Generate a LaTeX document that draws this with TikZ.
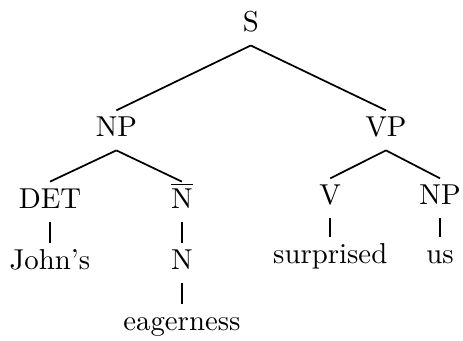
\documentclass[tikz,border=0pt]{standalone}
\begin{document}
\begin{tikzpicture}[cat/.style={inner xsep=1pt, inner ysep=2pt, text height=7pt, text depth=2.5pt, anchor=base},
  branch/.style={line width=0.6pt}]
  \useasboundingbox (0,0) rectangle (5.65,4.16);

  % Root and phrase level
  \node[cat] (s)   at (3.06, 3.77) {S};
  \node[cat] (np)  at (1.42, 2.49) {NP};
  \node[cat] (vp)  at (4.71, 2.49) {VP};

  % Categories below NP and VP
  \node[cat] (det)  at (0.61, 1.62) {DET};
  \node[cat] (nbar) at (2.22, 1.62) {$\overline{\mbox{N}}$};
  \node[cat] (v)    at (4.03, 1.66) {V};
  \node[cat] (obj)  at (5.37, 1.66) {NP};

  % Words
  \node[cat] (johns)     at (0.61, 0.87) {John's};
  \node[cat] (n)         at (2.22, 0.87) {N};
  \node[cat] (eagerness) at (2.22, 0.13) {eagerness};
  \node[cat] (surprised) at (4.03, 0.95) {surprised};
  \node[cat] (us)        at (5.37, 0.95) {us};

  % Branches
  \draw[branch] (s.south) -- (np.north);
  \draw[branch] (s.south) -- (vp.north);
  \draw[branch] (np.south) -- (det.north);
  \draw[branch] (np.south) -- (nbar.north);
  \draw[branch] (vp.south) -- (v.north);
  \draw[branch] (vp.south) -- (obj.north);
  \draw[branch] (det.south) -- (johns.north);
  \draw[branch] (nbar.south) -- (n.north);
  \draw[branch] (n.south) -- (eagerness.north);
  \draw[branch] (v.south) -- (surprised.north);
  \draw[branch] (obj.south) -- (us.north);
\end{tikzpicture}
\end{document}
